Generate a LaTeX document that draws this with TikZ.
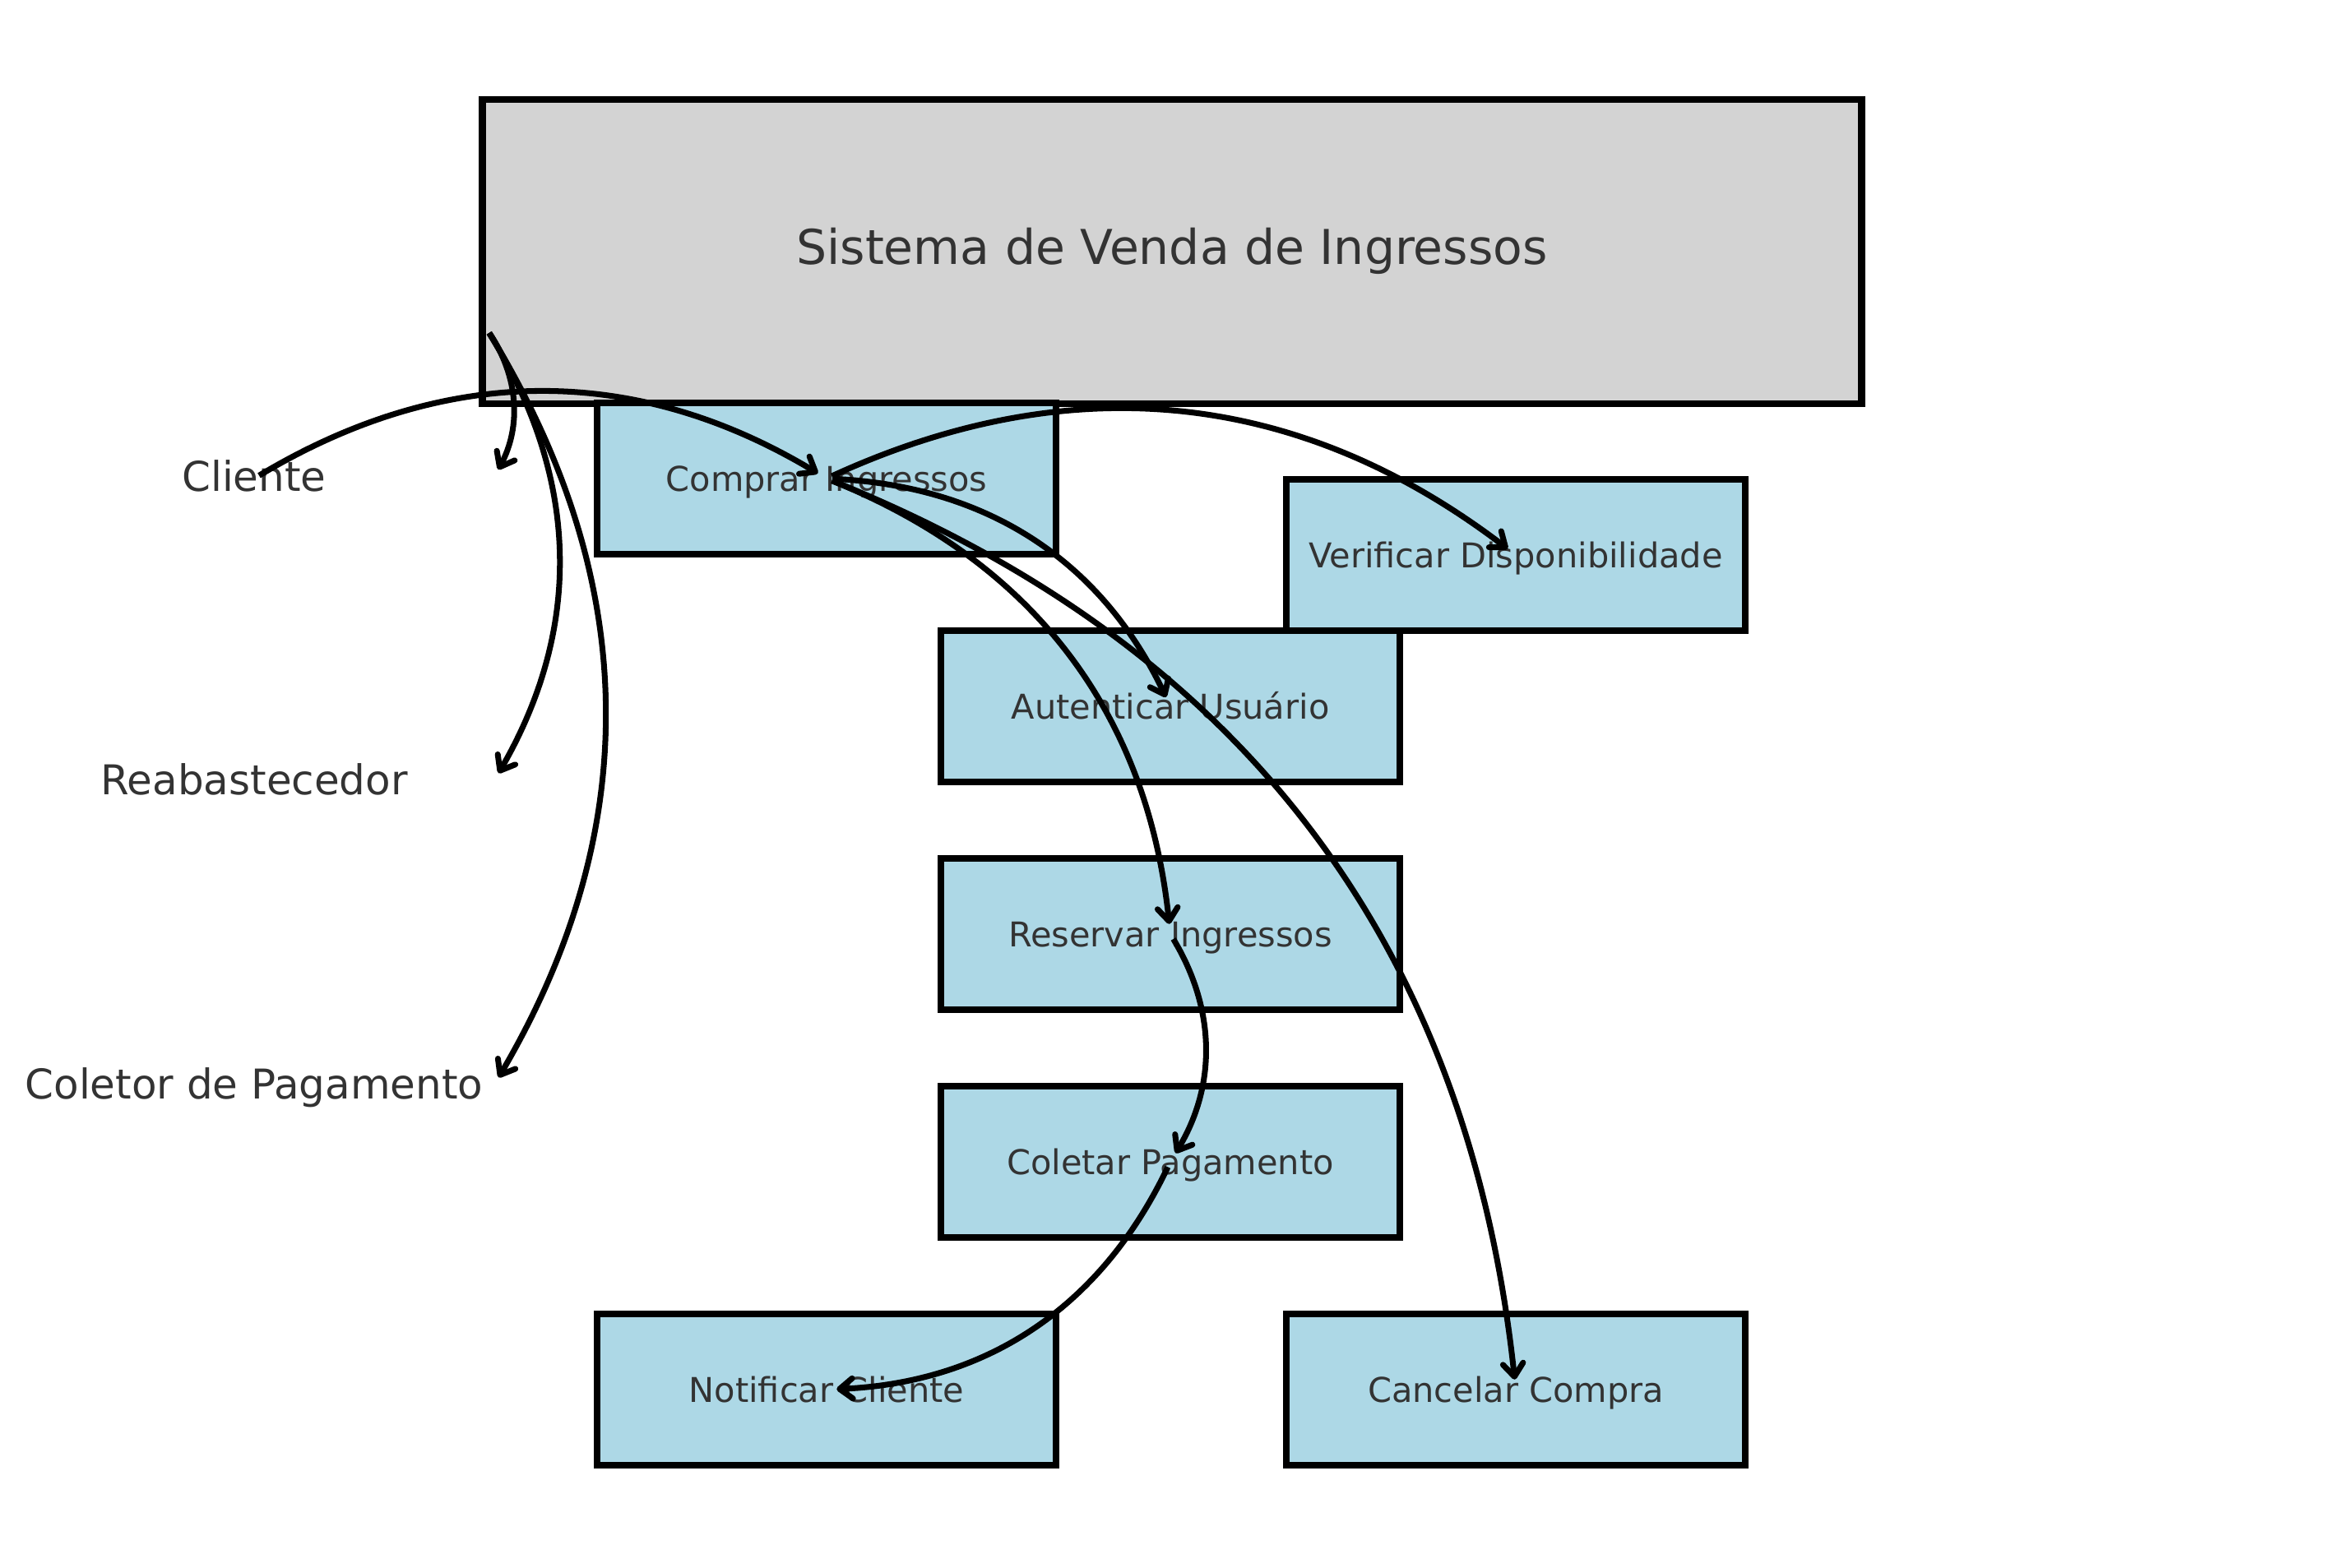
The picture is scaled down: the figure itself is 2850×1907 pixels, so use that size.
\documentclass[tikz,border=0pt]{standalone}
\usepackage{fontspec}
\setmainfont{DejaVu Sans}
\usetikzlibrary{arrows.meta}
\definecolor{boxblue}{HTML}{ADD8E6}
\definecolor{sysgray}{HTML}{D3D3D3}
\definecolor{labelgray}{HTML}{333333}
\tikzset{
  label text/.style={text=labelgray,text height=0.9em,text depth=0.02em,inner sep=0pt},
  %use case boxes
  usecase/.style={label text,draw=black,fill=boxblue,line width=2.3pt,
    minimum width=5.58cm,minimum height=1.84cm,font=\fontsize{11.8}{14}\selectfont},
  actor/.style={label text,font=\fontsize{14.2}{17}\selectfont},
  edge/.style={-{Straight Barb[length=4.5pt,width=7pt,round]},line width=2pt,
    bend left=31,shorten <=2pt,shorten >=3.5pt}
}
\begin{document}
\begin{tikzpicture}[x=0.01cm,y=-0.01cm]
  \useasboundingbox (0,0) rectangle (2850,1907);
  % system frame
  \node[label text,draw=black,fill=sysgray,line width=2.3pt,minimum width=16.76cm,
    minimum height=3.69cm,font=\fontsize{16.6}{20}\selectfont] (sistema) at (1425,306) {Sistema de Venda de Ingressos};
  % actors
  \node[actor] (cliente) at (309,582) {Cliente};
  \node[actor] (reabast) at (309,951) {Reabastecedor};
  \node[actor] (coletor) at (309,1321) {Coletor de Pagamento};
  \coordinate (sys-out) at (591,399);
  \coordinate (cliente-in) at (600,582);
  \coordinate (reabast-in) at (600,951);
  \coordinate (coletor-in) at (600,1321);
  % use cases
  \node[usecase] (comprar) at (1005,582) {Comprar Ingressos};
  \node[usecase] (verificar) at (1843,675) {Verificar Disponibilidade};
  \node[usecase] (autenticar) at (1423,859) {Autenticar Usuário};
  \node[usecase] (reservar) at (1423,1136) {Reservar Ingressos};
  \node[usecase] (coletar) at (1423,1413) {Coletar Pagamento};
  \node[usecase] (notificar) at (1005,1690) {Notificar Cliente};
  \node[usecase] (cancelar) at (1843,1690) {Cancelar Compra};
  % connectors
  \draw[edge] (cliente.center) to (comprar.center);
  \foreach \a in {cliente-in,reabast-in,coletor-in}
    \draw[edge] (sys-out) to (\a);
  \foreach \t in {verificar,autenticar,reservar,cancelar}
    \draw[edge] (comprar.center) to (\t.center);
  \draw[edge] (reservar.center) to (coletar.center);
  \draw[edge] (coletar.center) to (notificar.center);
\end{tikzpicture}
\end{document}
